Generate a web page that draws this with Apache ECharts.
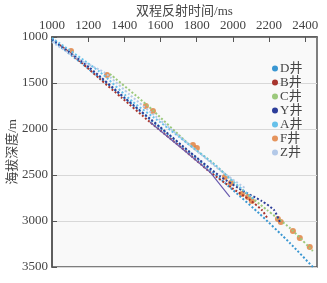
<!DOCTYPE html>
<html>
<head>
<meta charset="utf-8">
<script src="https://cdn.jsdelivr.net/npm/echarts@6/dist/echarts.min.js"></script>
<style>
	html, body { margin: 0; padding: 0; background: #fff; }
	#chart { width: 327px; height: 283px; }
</style>
</head>
<body>
<div id="chart"></div>
<script>
// 各井时深数据 [双程反射时间ms, 海拔深度m]
var wellNames = ['D井', 'B井', 'C井', 'Y井', 'A井', 'F井', 'Z井'];
var xTicks = [1000, 1200, 1400, 1600, 1800, 2000, 2200, 2400];
var yTicks = [1000, 1500, 2000, 2500, 3000, 3500];

var wellD = [[1000, 1033], [1155, 1272], [1320, 1533], [1486, 1804], [1652, 2076],
	[1818, 2348], [2000, 2663], [2149, 2924], [2315, 3239], [2442, 3500]];
var wellB = [[1044, 1087], [1166, 1283], [1265, 1457], [1387, 1663], [1541, 1924],
	[1718, 2207], [1873, 2467], [1995, 2641], [2094, 2772], [2160, 2880], [2193, 2978]];
var wellC = [[1320, 1402], [1525, 1739], [1762, 2174], [1890, 2370], [2039, 2641],
	[2188, 2880], [2315, 3076], [2442, 3326]];
var wellY = [[1000, 1022], [1210, 1337], [1403, 1663], [1597, 1978], [1762, 2250],
	[1928, 2511], [2066, 2685], [2160, 2783], [2227, 2880], [2260, 3011]];
var wellA = [[1000, 1011], [1265, 1380], [1448, 1707], [1597, 1924], [1746, 2152],
	[1901, 2391], [2011, 2587], [2122, 2772]];
var wellF = [[1105, 1152], [1304, 1413], [1519, 1750], [1558, 1804], [1779, 2174],
	[1801, 2207], [1956, 2522], [1989, 2587], [2050, 2707], [2083, 2739], [2105, 2783],
	[2249, 2978], [2265, 3010], [2332, 3109], [2370, 3185], [2425, 3283]];
var wellZ = [[1000, 1054], [1155, 1250], [1293, 1391], [1431, 1630], [1597, 1902],
	[1762, 2174], [1928, 2446], [2066, 2641]];
// 无图例的紫色趋势线
var trendLine = [[1541, 1924], [1735, 2239], [1873, 2467], [1983, 2739]];

var colors = ['#3a97d2', '#a8352e', '#9cc97c', '#2d3e9a', '#66c1ea', '#e07a36', '#b3c9e8'];

var chartObj = echarts.init(document.getElementById('chart'));

function dotLine(name, data, color) {
	return {
		name: name,
		type: 'line',
		data: data,
		showSymbol: false,
		symbol: 'circle',
		smooth: 0.2,
		color: color,
		lineStyle: { color: color, width: 2, type: 'dotted' }
	};
}

var fontFamily = '"Liberation Serif", "Noto Sans CJK SC", serif';

var option = {
	backgroundColor: '#fff',
	animation: false,
	grid: {
		left: 52, right: 10, top: 37, bottom: 16,
		outerBoundsMode: 'none',
		containLabel: false,
		show: true,
		backgroundColor: '#f9f9f9',
		borderColor: '#555',
		borderWidth: 1.5
	},
	legend: {
		data: wellNames,
		orient: 'vertical',
		left: 267,
		top: 57,
		icon: 'circle',
		itemWidth: 6,
		itemHeight: 6,
		itemGap: 1,
		textStyle: { fontFamily: fontFamily, fontSize: 13, color: '#444', padding: [0, 0, 0, -3] }
	},
	xAxis: {
		type: 'value',
		position: 'top',
		min: 1000,
		max: 2465,
		interval: 200,
		name: '双程反射时间/ms',
		nameLocation: 'middle',
		nameGap: 19,
		nameMoveOverlap: false,
		nameTextStyle: { fontFamily: fontFamily, fontSize: 13, color: '#444' },
		axisLine: { show: true, lineStyle: { color: '#555', width: 1.5 } },
		axisTick: { show: true, inside: true, length: 5, lineStyle: { color: '#555' } },
		axisLabel: {
			fontFamily: fontFamily, fontSize: 13, color: '#444', margin: 5,
			showMaxLabel: false,
			formatter: function (v) { return xTicks.indexOf(v) >= 0 ? v : ''; }
		},
		splitLine: { show: false }
	},
	yAxis: {
		type: 'value',
		inverse: true,
		min: 1000,
		max: 3500,
		interval: 500,
		name: '海拔深度/m',
		nameLocation: 'middle',
		nameGap: 33,
		nameMoveOverlap: false,
		nameTextStyle: { fontFamily: fontFamily, fontSize: 13, color: '#444' },
		axisLine: { show: true, lineStyle: { color: '#555', width: 1.5 } },
		axisTick: { show: true, inside: true, length: 5, lineStyle: { color: '#555' } },
		axisLabel: {
			fontFamily: fontFamily, fontSize: 13, color: '#444', margin: 4,
			formatter: function (v) { return yTicks.indexOf(v) >= 0 ? v : ''; }
		},
		splitLine: { show: true, lineStyle: { color: '#d8d8d8', width: 1 } }
	},
	series: [
		dotLine('D井', wellD, colors[0]),
		dotLine('B井', wellB, colors[1]),
		dotLine('C井', wellC, colors[2]),
		dotLine('Y井', wellY, colors[3]),
		dotLine('A井', wellA, colors[4]),
		{
			name: 'F井',
			type: 'scatter',
			data: wellF,
			symbolSize: 6,
			color: colors[5],
			itemStyle: { color: colors[5] }
		},
		dotLine('Z井', wellZ, colors[6]),
		{
			name: 'trend',
			type: 'line',
			data: trendLine,
			showSymbol: false,
			color: '#6b5db0',
			lineStyle: { color: '#6b5db0', width: 1.2 }
		}
	]
};

chartObj.setOption(option);
</script>
</body>
</html>
